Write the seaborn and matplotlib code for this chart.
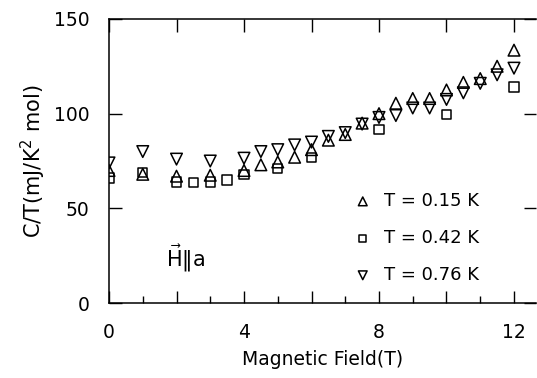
import numpy as np
import pandas as pd
import seaborn as sns
import matplotlib.pyplot as plt
from matplotlib.ticker import MultipleLocator

sns.set_theme(style="ticks", rc={'text.color': 'black', 'axes.labelcolor': 'black',
                                 'xtick.color': 'black', 'ytick.color': 'black'})
plt.rcParams['font.family'] = ['DejaVu Sans']
plt.rcParams['mathtext.default'] = 'regular'

# C/T vs field
field_015 = [0, 1, 2, 3, 4, 4.5, 5, 5.5, 6, 6.5, 7, 7.5, 8, 8.5, 9, 9.5, 10, 10.5, 11, 11.5, 12]
ct_015 = [70, 68, 67, 67.5, 70, 73, 74.5, 77, 81, 86, 89, 95, 100, 105.5, 108, 108, 112.5, 116.5, 118.5, 125, 133.5]

field_042 = [0, 1, 2, 2.5, 3, 3.5, 4, 5, 6, 8, 10, 12]
ct_042 = [66, 69, 64, 63.5, 64, 65, 68, 71, 77, 91.5, 99.5, 114]

field_076 = [0, 1, 2, 3, 4, 4.5, 5, 5.5, 6, 6.5, 7, 7.5, 8, 8.5, 9, 9.5, 10, 10.5, 11, 11.5, 12]
ct_076 = [74, 80, 76, 75, 76.5, 80, 81, 83.5, 85, 88, 90, 94.5, 98, 99, 103, 103, 107.5, 111, 116, 120.5, 124]

labels = ['T = 0.15 K', 'T = 0.42 K', 'T = 0.76 K']
xtick_vals = [0, 2, 4, 6, 8, 10, 12]
xtick_labels = ['0', '', '4', '', '8', '', '12']
ytick_vals = [0, 50, 100, 150]

fig = plt.figure(figsize=(5.37, 3.78), dpi=100)
ax = fig.add_axes([0.203, 0.198, 0.795, 0.752])

series = [(field_015, ct_015, '^', 70), (field_042, ct_042, 's', 45), (field_076, ct_076, 'v', 70)]
for (x, y, m, s), lab in zip(series, labels):
    df = pd.DataFrame({'B': x, 'CT': y})
    sns.scatterplot(data=df, x='B', y='CT', marker=m, s=s, facecolor='none',
                    edgecolor='black', linewidth=1.1, label=lab, ax=ax)

ax.set_xlim(0, 12.65)
ax.set_ylim(0, 150)
ax.set_xticks(xtick_vals)
ax.set_xticklabels(xtick_labels)
ax.xaxis.set_minor_locator(MultipleLocator(1))
ax.set_yticks(ytick_vals)
ax.tick_params(axis='both', which='major', direction='in', length=9, width=1, labelsize=13.5,
               top=True, right=True)
ax.tick_params(axis='x', which='major', pad=14)
ax.tick_params(axis='y', which='major', pad=14)
ax.tick_params(axis='x', which='minor', direction='in', length=5, width=1, top=False)
ax.spines['right'].set_visible(False)
for sp in ['left', 'bottom', 'top']:
    ax.spines[sp].set_linewidth(1.1)
    ax.spines[sp].set_color('black')

ax.set_xlabel('Magnetic Field(T)', fontsize=13.5, labelpad=6)
ax.set_ylabel('C/T(mJ/K$^2$ mol)', fontsize=15, labelpad=4)

ax.text(1.7, 24, r'$\vec{H}\Vert a$', fontsize=15, ha='left', va='center')

ax.legend(loc='center', bbox_to_anchor=(0.71, 0.229), frameon=False, fontsize=13,
          labelspacing=1.05, handletextpad=0.2, markerscale=0.75, borderpad=0)

fig.savefig('out.png', dpi=100)
